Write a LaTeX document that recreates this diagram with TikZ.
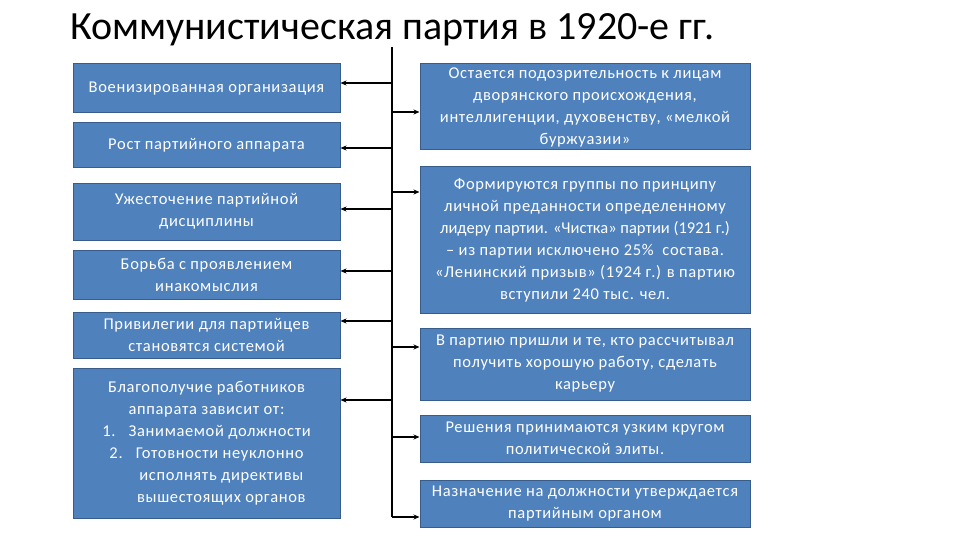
\documentclass[tikz,border=0pt]{standalone}
\usepackage{fontspec}
\setmainfont{Carlito}
\newfontfamily\spaced[LetterSpace=4]{Carlito}
\newfontfamily\plain{Carlito}
\usetikzlibrary{arrows.meta}
\definecolor{boxfill}{HTML}{4F81BD}
\definecolor{boxline}{HTML}{385D8A}
\tikzset{
  bx/.style={draw=boxline, line width=1pt, fill=boxfill, text=white, align=center,
    inner sep=0pt, font=\spaced\fontsize{16.5}{22}\selectfont},
  lbox/.style={bx, minimum width=267pt},
  rbox/.style={bx, minimum width=330pt},
  larr/.style={line width=1.6pt, -{Stealth[length=6pt,width=5pt]}},
  rarr/.style={line width=1.1pt, -{Stealth[length=6pt,width=5pt]}},
}
\begin{document}
\begin{tikzpicture}[x=1pt,y=-1pt]
\useasboundingbox (0,0) rectangle (960,540);
\node[anchor=base west, font=\fontsize{40}{44}\selectfont, inner sep=0pt] (title) at (70,40) {Коммунистическая партия в 1920-е гг.};
% left column
\node[lbox, minimum height=49pt] (L1) at (206.5,88.5) {Военизированная организация};
\node[lbox, minimum height=45pt] (L2) at (206.5,145.5) {Рост партийного аппарата};
\node[lbox, minimum height=57pt] (L3) at (206.5,211.5) {Ужесточение партийной\\дисциплины};
\node[lbox, minimum height=49pt] (L4) at (206.5,274.5) {Борьба с проявлением\\инакомыслия};
\node[lbox, minimum height=46pt] (L5) at (206.5,335) {Привилегии для партийцев\\становятся системой};
\node[lbox, minimum height=150pt] (L6) at (206.5,443) {Благополучие работников\\аппарата зависит от:\\1.\hspace{0.8em}Занимаемой должности\\2.\hspace{0.8em}Готовности неуклонно\\\hspace*{1.8em}исполнять директивы\\\hspace*{1.8em}вышестоящих органов};
% right column
\node[rbox, minimum height=86pt] (R1) at (585,107) {Остается подозрительность к лицам\\дворянского происхождения,\\интеллигенции, духовенству, «мелкой\\буржуазии»};
\node[rbox, minimum height=146pt] (R2) at (585,240) {Формируются группы по принципу\\личной преданности определенному\\{\plain лидеру партии. «Чистка» партии (1921 г.)}\\– из партии исключено 25\%\ \ состава.\\«Ленинский призыв» (1924 г.) в партию\\вступили 240 тыс. чел.};
\node[rbox, minimum height=72pt] (R3) at (585,364) {В партию пришли и те, кто рассчитывал\\получить хорошую работу, сделать\\карьеру};
\node[rbox, minimum height=47pt] (R4) at (585,438.5) {Решения принимаются узким кругом\\политической элиты.};
\node[rbox, minimum height=47pt] (R5) at (585,503.5) {Назначение на должности утверждается\\партийным органом};
% spine
\coordinate (top) at (392,47);
\coordinate (bot) at (392,517);
\draw[line width=1.2pt] (top) -- (bot);
\foreach \y/\n in {83/L1,148/L2,209/L3,271/L4,321/L5,400/L6}{
  \coordinate (s) at (392,\y);
  \draw[larr] (s) -- (s -| \n.east);
}
\foreach \y/\n in {112/R1,192/R2,347/R3,437/R4,517/R5}{
  \coordinate (s) at (392,\y);
  \draw[rarr] (s) -- (s -| \n.west);
}
\end{tikzpicture}
\end{document}
